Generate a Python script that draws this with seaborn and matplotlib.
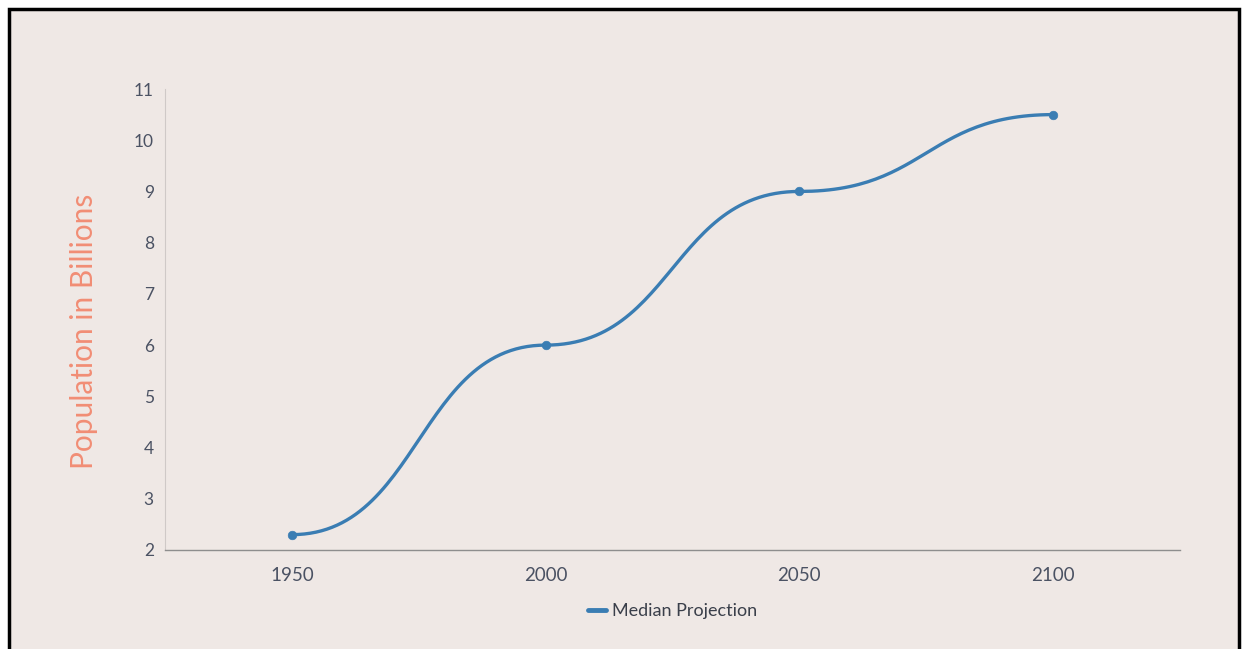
"""  World population median projection, smooth line chart  """
import matplotlib
matplotlib.use('Agg')
import matplotlib.pyplot as plt
from matplotlib.patches import Rectangle
import numpy as np
import pandas as pd
import seaborn as sns

# ~~~~~~~~~  Data  ~~~~~~~~~ #
years = [1950, 2000, 2050, 2100]
population = [2.3, 6.0, 9.0, 10.5]
series_name = 'Median Projection'
y_ticks = [2, 3, 4, 5, 6, 7, 8, 9, 10, 11]

BG = '#efe8e5'
LINE = '#3a7db3'
TICK_TXT = '#4b5263'
LABEL = '#f28d75'


# bump-style smoothing (flat tangent at every point), same as the source chart
def bump_curve(xs, ys, steps=60):
    out_x, out_y = [], []
    for (x0, y0), (x1, y1) in zip(zip(xs[:-1], ys[:-1]), zip(xs[1:], ys[1:])):
        t = np.linspace(0, 1, steps)
        xm = (x0 + x1) / 2
        bx = (1-t)**3*x0 + 3*(1-t)**2*t*xm + 3*(1-t)*t**2*xm + t**3*x1
        by = (1-t)**3*y0 + 3*(1-t)**2*t*y0 + 3*(1-t)*t**2*y1 + t**3*y1
        out_x.extend(bx)
        out_y.extend(by)
    return out_x, out_y


df = pd.DataFrame({'year': years, 'population': population})
cx, cy = bump_curve(years, population)
curve = pd.DataFrame({'year': cx, 'population': cy})

sns.set_style('white')
plt.rcParams['font.family'] = ['Lato', 'DejaVu Sans']

fig = plt.figure(figsize=(12.44, 6.49), dpi=100, facecolor='white')
# framed panel
fig.patches.append(Rectangle((9/1244, -0.02), 1230/1244, 1.02 - 9/649,
                             transform=fig.transFigure, facecolor=BG,
                             edgecolor='black', linewidth=2.5, zorder=-1))
ax = fig.add_axes([165/1244, 1 - 550/649, 1015/1244, 461/649])
ax.set_facecolor(BG)

sns.lineplot(data=curve, x='year', y='population', ax=ax, color=LINE,
             linewidth=2.4, label=series_name, sort=False)
sns.scatterplot(data=df, x='year', y='population', ax=ax, color=LINE,
                s=38, edgecolor=LINE, legend=False, zorder=3)

ax.set_xlim(1925, 2125)
ax.set_ylim(2, 11)
ax.set_xticks(years)
ax.set_yticks(y_ticks)
ax.tick_params(axis='y', colors='#c8c2c0', length=4, width=0.8, labelcolor=TICK_TXT,
               labelsize=12.5, pad=4)
ax.tick_params(axis='x', colors='#9a9a9a', length=3, width=0.8, direction='in',
               labelcolor=TICK_TXT, labelsize=13.5, pad=12)
for s in ['top', 'right']:
    ax.spines[s].set_visible(False)
ax.spines['left'].set_color('#cfc9c7')
ax.spines['left'].set_linewidth(0.8)
ax.spines['bottom'].set_color('#8e8e8e')
ax.spines['bottom'].set_linewidth(1.0)

ax.set_xlabel('')
ax.set_ylabel('Population in Billions', color=LABEL, fontsize=21.5)
ax.yaxis.set_label_coords(-0.066, 0.475)

leg = ax.legend(loc='upper center', bbox_to_anchor=(0.5, -0.08), frameon=False,
                fontsize=13, handlelength=1.0, handletextpad=0.3)
for h in leg.get_lines():
    h.set_linewidth(3.5)
for t in leg.get_texts():
    t.set_color('#3a3f4a')

fig.savefig('out.png', dpi=100, facecolor='white')
